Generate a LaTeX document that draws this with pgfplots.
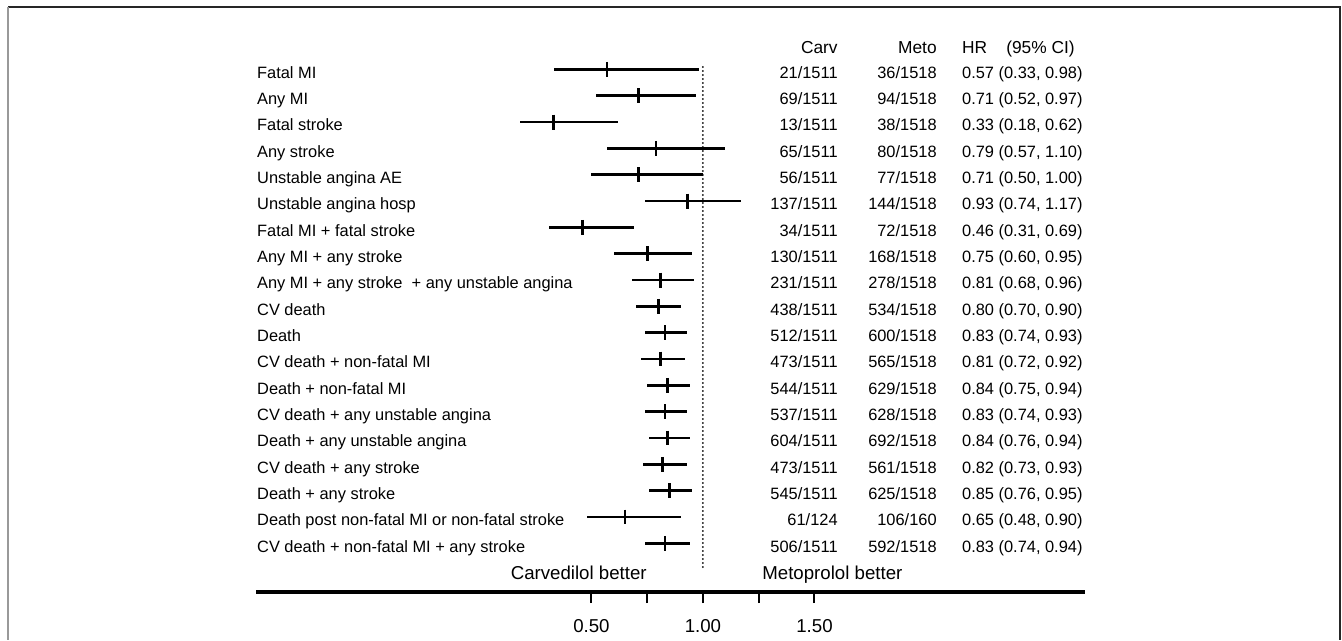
\documentclass[border=0pt]{standalone}
\usepackage{fontspec}
\setmainfont{Liberation Sans}
\usepackage{pgfplots}
\usepackage{pgfplotstable}
\pgfplotsset{compat=1.18}

% row, hazard ratio, 95% CI, events carvedilol / metoprolol, label
\pgfplotstableread{
row hr   lo   hi   carv     meto     ci                    label
1   0.57 0.33 0.98 21/1511  36/1518  {0.57 (0.33, 0.98)}   {Fatal MI}
2   0.71 0.52 0.97 69/1511  94/1518  {0.71 (0.52, 0.97)}   {Any MI}
3   0.33 0.18 0.62 13/1511  38/1518  {0.33 (0.18, 0.62)}   {Fatal stroke}
4   0.79 0.57 1.10 65/1511  80/1518  {0.79 (0.57, 1.10)}   {Any stroke}
5   0.71 0.50 1.00 56/1511  77/1518  {0.71 (0.50, 1.00)}   {Unstable angina AE}
6   0.93 0.74 1.17 137/1511 144/1518 {0.93 (0.74, 1.17)}   {Unstable angina hosp}
7   0.46 0.31 0.69 34/1511  72/1518  {0.46 (0.31, 0.69)}   {Fatal MI + fatal stroke}
8   0.75 0.60 0.95 130/1511 168/1518 {0.75 (0.60, 0.95)}   {Any MI + any stroke}
9   0.81 0.68 0.96 231/1511 278/1518 {0.81 (0.68, 0.96)}   {Any MI + any stroke\ \ + any unstable angina}
10  0.80 0.70 0.90 438/1511 534/1518 {0.80 (0.70, 0.90)}   {CV death}
11  0.83 0.74 0.93 512/1511 600/1518 {0.83 (0.74, 0.93)}   {Death}
12  0.81 0.72 0.92 473/1511 565/1518 {0.81 (0.72, 0.92)}   {CV death + non-fatal MI}
13  0.84 0.75 0.94 544/1511 629/1518 {0.84 (0.75, 0.94)}   {Death + non-fatal MI}
14  0.83 0.74 0.93 537/1511 628/1518 {0.83 (0.74, 0.93)}   {CV death + any unstable angina}
15  0.84 0.76 0.94 604/1511 692/1518 {0.84 (0.76, 0.94)}   {Death + any unstable angina}
16  0.82 0.73 0.93 473/1511 561/1518 {0.82 (0.73, 0.93)}   {CV death + any stroke}
17  0.85 0.76 0.95 545/1511 625/1518 {0.85 (0.76, 0.95)}   {Death + any stroke}
18  0.65 0.48 0.90 61/124   106/160  {0.65 (0.48, 0.90)}   {Death post non-fatal MI or non-fatal stroke}
19  0.83 0.74 0.94 506/1511 592/1518 {0.83 (0.74, 0.94)}   {CV death + non-fatal MI + any stroke}
}\data

\pgfplotsset{textcol/.style={only marks, mark=text, text mark={},
  nodes near coords, point meta=explicit symbolic,
  every node near coord/.append style={anchor=#1}}}

\begin{document}
\begin{tikzpicture}
\useasboundingbox (0,0) rectangle (1006.5pt,480pt);
% frame of the figure panel
\draw[line width=1.5pt, black!85] (6pt,474.75pt) -- (1005.2pt,474.75pt) -- (1005.2pt,0pt);
\draw[line width=1.5pt, black!40] (6.2pt,474.75pt) -- (6.2pt,0pt);

\begin{axis}[
  at={(192pt,36pt)}, anchor=south west,
  scale only axis,
  width=621.75pt, height=421.5pt,
  xmin=-1.004, xmax=2.713,
  ymin=-20.848, ymax=0.496,
  axis x line*=bottom,
  axis y line=none,
  x axis line style={line width=2.4pt},
  xtick={0.5,0.75,1,1.25,1.5},
  xticklabels={0.50,,1.00,,1.50},
  tick align=outside,
  major tick length=8.25pt,
  xtick style={line width=1.5pt, black},
  xticklabel style={font=\fontsize{14}{16}\selectfont, inner sep=0pt, anchor=north, yshift=-12pt},
  clip=false,
  every node near coord/.append style={inner sep=0pt, text=black,
    font=\fontsize{12.3}{14}\selectfont, yshift=-6.5pt},
]
% reference line at HR = 1
\addplot[black, line width=1.5pt, line cap=round, dash pattern=on 0pt off 3pt]
  coordinates {(1,-0.91) (1,-20.01)};

% hazard ratios with 95% CI
\addplot[black, only marks, mark=|, mark size=5.6pt,
  mark options={line width=2pt},
  error bars/.cd, x dir=both, x explicit, error mark=none,
  error bar style={line width=2.1pt}]
  table[x=hr, y expr=-\thisrow{row},
        x error plus expr=\thisrow{hi}-\thisrow{hr},
        x error minus expr=\thisrow{hr}-\thisrow{lo}] {\data};

% text columns
\addplot[textcol=base west] table[x expr=-1.0, y expr=-\thisrow{row}, meta=label] {\data};
\addplot[textcol=base east] table[x expr=1.605, y expr=-\thisrow{row}, meta=carv] {\data};
\addplot[textcol=base east] table[x expr=2.049, y expr=-\thisrow{row}, meta=meto] {\data};
\addplot[textcol=base west] table[x expr=2.161, y expr=-\thisrow{row}, meta=ci] {\data};

% headers
\node[anchor=base east, inner sep=0pt, font=\fontsize{13}{15}\selectfont] at (axis cs:1.605,-0.411) {Carv};
\node[anchor=base east, inner sep=0pt, font=\fontsize{13}{15}\selectfont] at (axis cs:2.049,-0.411) {Meto};
\node[anchor=base west, inner sep=0pt, font=\fontsize{13}{15}\selectfont] at (axis cs:2.161,-0.411) {HR};
\node[anchor=base west, inner sep=0pt, font=\fontsize{13}{15}\selectfont] at (axis cs:2.359,-0.411) {(95\% CI)};

\node[anchor=base east, inner sep=0pt, font=\fontsize{14}{16}\selectfont] at (axis cs:0.749,-20.38) {Carvedilol better};
\node[anchor=base west, inner sep=0pt, font=\fontsize{14}{16}\selectfont] at (axis cs:1.265,-20.38) {Metoprolol better};
\end{axis}
\end{tikzpicture}
\end{document}
